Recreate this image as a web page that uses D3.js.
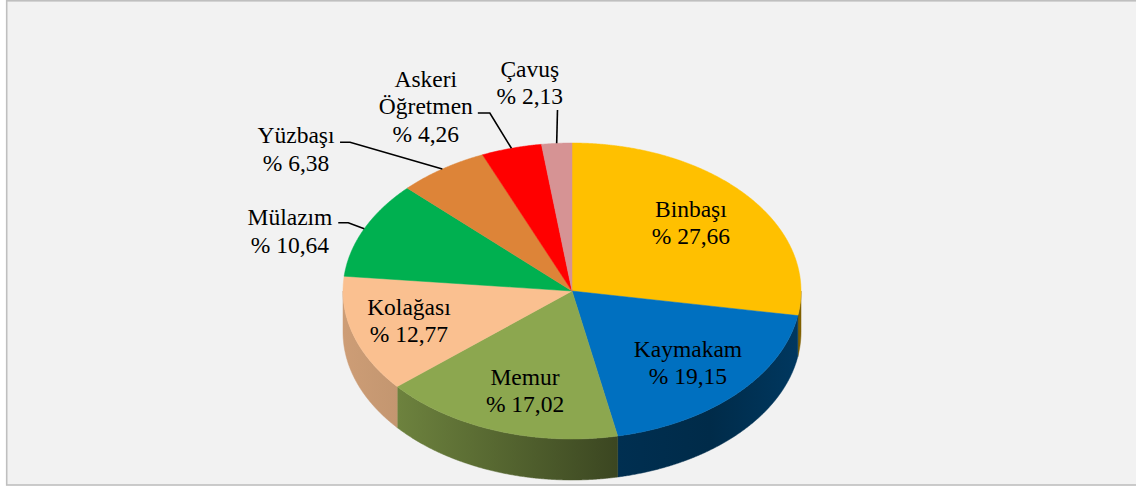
<!DOCTYPE html>
<html>
<head>
<meta charset="utf-8">
<script src="https://cdn.jsdelivr.net/npm/d3@7"></script>
<style>
  html, body { margin: 0; padding: 0; background: #ffffff; }
  svg { display: block; }
</style>
</head>
<body>
<svg id="chart" width="1136" height="486"></svg>
<script>
// ---- Data ----
const categories = ["Binbaşı", "Kaymakam", "Memur", "Kolağası", "Mülazım", "Yüzbaşı", "Askeri Öğretmen", "Çavuş"];
const values = [27.66, 19.15, 17.02, 12.77, 10.64, 6.38, 4.26, 2.13];
const colors = ["#FFC000", "#0070C0", "#8CA74F", "#FAC090", "#00B050", "#DD8438", "#FF0000", "#D69394"];

// ---- Layout (not data) ----
const W = 1136, H = 486;
const cx = 572, cy = 291, rx = 229, ry = 148, depth = 41;
const fs = 23.5, lh = 27.5;
const insideK = 0.7;
// label placement: inside (offset from k=0.7 anchor) or outside (offset from rim point)
const labelPlacement = [
  { inside: true,  dx: -3.5, dy: -1.6 },
  { inside: true,  dx: 0.7,  dy: -0.3 },
  { inside: true,  dx: 5.6,  dy: 2 },
  { inside: true,  dx: -10,  dy: -1 },
  { inside: false, dx: -74.3, dy: 2.3,  leader: [[-26, -6], [-16, -6]] },
  { inside: false, dx: -146.3, dy: -19.6, leader: [[-102.3, -26.7], [-92.3, -26.7]] },
  { inside: false, dx: -85.6, dy: -41.8, leader: [[-33.6, -35.2], [-21.6, -35.2]] },
  { inside: false, dx: -26.9, dy: -60.6, leader: [[0.8, -33.3]] }
];
// side shading brightness as a function of horizontal position
const shadeStops = [[0, 0.82], [0.12, 0.78], [0.33, 0.62], [0.6, 0.42], [0.8, 0.38], [1, 0.5]];

const fmtLocale = d3.formatLocale({ decimal: ",", thousands: ".", grouping: [3], currency: ["", ""] });
const fmt = fmtLocale.format(".2f");

const svg = d3.select("#chart");

// background frame
svg.append("rect").attr("x", 6.7).attr("y", 0.8).attr("width", 1140).attr("height", 484.2)
  .attr("fill", "#F2F2F2").attr("stroke", "#BFBFBF").attr("stroke-width", 1.6);

const pie = d3.pie().sort(null).value(d => d).startAngle(0).endAngle(2 * Math.PI);
const arcs = pie(values);

function pt(theta, k = 1) {
  return [cx + rx * k * Math.sin(theta), cy - ry * k * Math.cos(theta)];
}
function rimPoints(a0, a1) {
  const n = Math.max(2, Math.ceil((a1 - a0) / 0.005));
  return d3.range(n + 1).map(i => pt(a0 + (a1 - a0) * i / n));
}
const line = d3.line();

const defs = svg.append("defs");
colors.forEach((c, i) => {
  const base = d3.rgb(c);
  const g = defs.append("linearGradient").attr("id", "side" + i)
    .attr("gradientUnits", "userSpaceOnUse")
    .attr("x1", cx - rx).attr("x2", cx + rx).attr("y1", 0).attr("y2", 0);
  shadeStops.forEach(([o, m]) => {
    g.append("stop").attr("offset", o)
      .attr("stop-color", d3.rgb(base.r * m, base.g * m, base.b * m).formatHex());
  });
});

// side walls (front half)
const sides = svg.append("g");
arcs.forEach((a, i) => {
  const s0 = Math.max(a.startAngle, Math.PI / 2);
  const s1 = Math.min(a.endAngle, 3 * Math.PI / 2);
  if (s0 >= s1) return;
  const top = rimPoints(s0, s1);
  const bottom = top.slice().reverse().map(([x, y]) => [x, y + depth]);
  sides.append("path").attr("d", line(top.concat(bottom)) + "Z")
    .attr("fill", `url(#side${i})`).attr("stroke", `url(#side${i})`).attr("stroke-width", 0.5);
});

// top faces
const tops = svg.append("g");
arcs.forEach((a, i) => {
  const pts = [[cx, cy]].concat(rimPoints(a.startAngle, a.endAngle));
  tops.append("path").attr("d", line(pts) + "Z")
    .attr("fill", colors[i]).attr("stroke", colors[i]).attr("stroke-width", 0.5);
});

// labels
const labels = svg.append("g")
  .attr("font-family", "'Liberation Serif', 'Times New Roman', serif")
  .attr("font-size", fs).attr("fill", "#000").attr("text-anchor", "middle");

arcs.forEach((a, i) => {
  const mid = (a.startAngle + a.endAngle) / 2;
  const lp = labelPlacement[i];
  const anchor = pt(mid, lp.inside ? insideK : 1);
  const lx = anchor[0] + lp.dx, ly = anchor[1] + lp.dy;
  const lines = categories[i].split(" ").concat(["% " + fmt(values[i])]);
  const n = lines.length;
  const t = labels.append("text");
  lines.forEach((s, j) => {
    t.append("tspan").attr("x", lx).attr("y", ly + (j - (n - 1) / 2) * lh + 0.33 * fs).text(s);
  });
  if (!lp.inside) {
    const pts = lp.leader.map(([dx, dy]) => [anchor[0] + dx, anchor[1] + dy]).concat([anchor]);
    svg.append("path").attr("d", line(pts)).attr("fill", "none")
      .attr("stroke", "#000").attr("stroke-width", 1.6);
  }
});
</script>
</body>
</html>
